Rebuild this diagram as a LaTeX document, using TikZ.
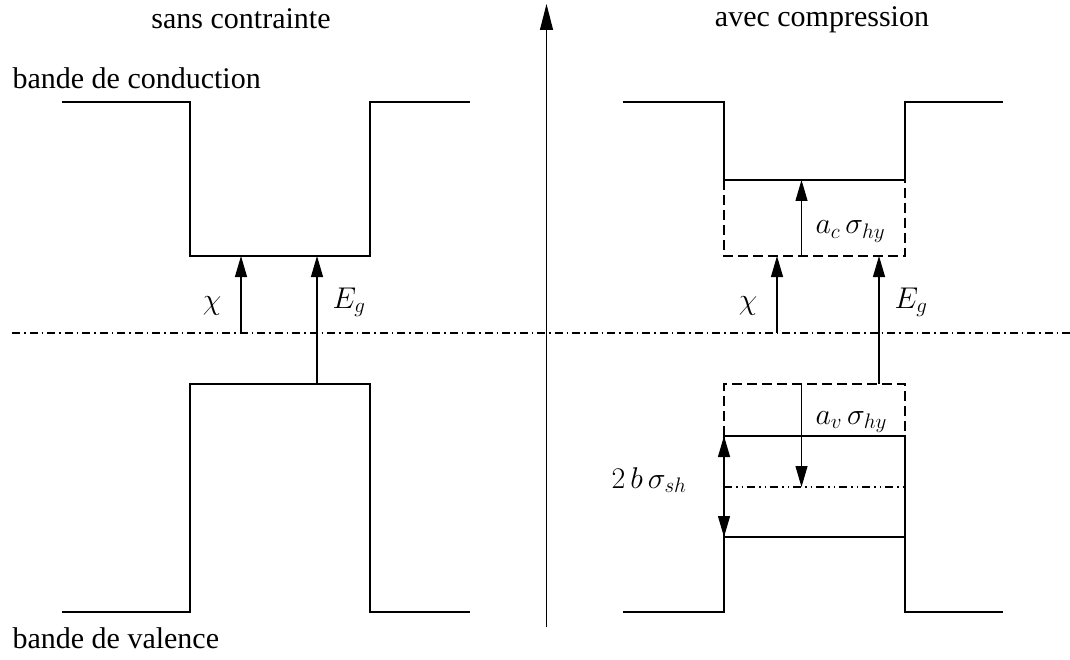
\RequirePackage{fix-cm}
\documentclass[tikz,border=0pt]{standalone}
\usepackage[no-math]{fontspec}
\setmainfont{Liberation Serif}
\usetikzlibrary{arrows.meta}
\begin{document}
\begin{tikzpicture}[x=1pt,y=-1pt,line width=1.1pt,line join=miter,
  tipa/.tip={Triangle[length=21pt,width=12pt]},
  arr/.style={-tipa},
  darr/.style={tipa-tipa},
  axisarr/.style={-{Triangle[length=26pt,width=13pt]}},
  dashbox/.style={dash pattern=on 10pt off 5pt},
  dashdotline/.style={dash pattern=on 8pt off 4pt on 1.5pt off 4pt},
  dashdotdotline/.style={dash pattern=on 8pt off 4pt on 1.5pt off 4pt on 1.5pt off 4pt},
  lbl/.style={font=\fontsize{30}{36}\selectfont,inner sep=0pt},
]
\useasboundingbox (0,0) rectangle (1070,660);

% named points
\coordinate (Lmid) at (241,333);
\coordinate (Lcb) at (241,256);
\coordinate (Lvb) at (317,384);
\coordinate (Lcb2) at (317,256);
\coordinate (Rmid) at (777,333);
\coordinate (Rcb) at (777,256);
\coordinate (Rvb) at (879,384);
\coordinate (Rcb2) at (879,256);
\coordinate (Acs) at (801.5,256);
\coordinate (Ace) at (801.5,180);
\coordinate (Avs) at (801.5,384);
\coordinate (Ave) at (801.5,487);
\coordinate (Bt) at (724,436);
\coordinate (Bb) at (724,537);
\coordinate (Ax0) at (546.5,627);
\coordinate (Ax1) at (546.5,4);

% left bands
\draw (62,102) -- (190,102) -- (190,256) -- (370,256) -- (370,102) -- (470,102);
\draw (62,612) -- (190,612) -- (190,384) -- (370,384) -- (370,612) -- (470,612);

% right bands
\draw (623,102) -- (724,102) -- (724,180) -- (905,180) -- (905,102) -- (1003,102);
\draw[dashbox] (724,180) -- (724,256) -- (905,256) -- (905,180);
\draw (623,612) -- (724,612) -- (724,436) -- (905,436) -- (905,612) -- (1003,612);
\draw (724,537) -- (905,537);
\draw[dashbox] (724,436) -- (724,384) -- (905,384) -- (905,436);
\draw[dashdotdotline] (724,487) -- (905,487);

% mid line and axis
\draw[dashdotline] (12,333) -- (1070,333);
\draw[axisarr] (Ax0) -- (Ax1);

% arrows
\draw[arr] (Lmid) -- (Lcb);
\draw[arr] (Lvb) -- (Lcb2);
\draw[arr] (Rmid) -- (Rcb);
\draw[arr] (Rvb) -- (Rcb2);
\draw[arr] (Acs) -- (Ace);
\draw[arr] (Avs) -- (Ave);
\draw[darr] (Bt) -- (Bb);

% texts
\node[lbl,anchor=base] (sc) at (241,29) {sans contrainte};
\node[lbl,anchor=base] (ac) at (822,27) {avec compression};
\node[lbl,anchor=base west] (bc) at (12,89) {bande de conduction};
\node[lbl,anchor=base west] (bv) at (12,648) {bande de valence};

\node[lbl] (chiL) at (212,306) {$\chi$};
\node[lbl,anchor=base west] (EgL) at (332,308) {$E_g$};
\node[lbl] (chiR) at (748,306) {$\chi$};
\node[lbl,anchor=base west] (EgR) at (894,308) {$E_g$};
\node[lbl,anchor=base west] (acs) at (815,234) {$a_c\,\sigma_{hy}$};
\node[lbl,anchor=base west] (avs) at (815,424) {$a_v\,\sigma_{hy}$};
\node[lbl,anchor=base west] (bss) at (611,488) {$2\,b\,\sigma_{sh}$};
\end{tikzpicture}
\end{document}
